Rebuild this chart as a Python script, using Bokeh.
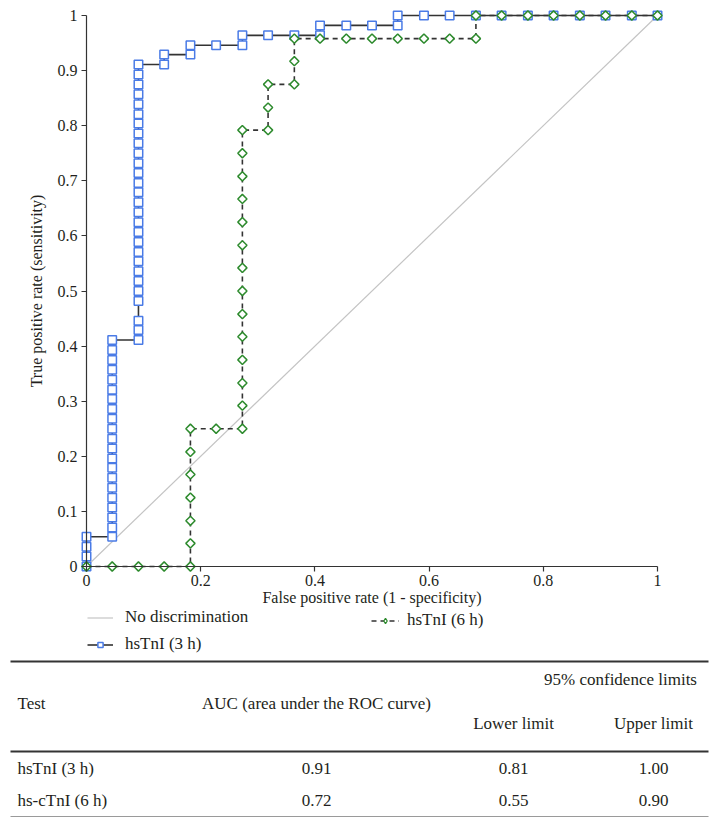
import math
from bokeh.plotting import figure
from bokeh.models import Range1d, FixedTicker, Legend, LegendItem
from bokeh.embed import file_html
from bokeh.resources import INLINE
from bokeh.core.properties import value

# ---------------- data ----------------
series_names = ["No discrimination", "hsTnI (3 h)", "hsTnI (6 h)"]

diag_x = [0.0, 1.0]
diag_y = [0.0, 1.0]

# hsTnI (3 h) ROC points (false positive rate, true positive rate)
h3_fpr = [0.000, 0.000, 0.000, 0.000,
          0.045, 0.045, 0.045, 0.045, 0.045, 0.045, 0.045, 0.045, 0.045, 0.045, 0.045,
          0.045, 0.045, 0.045, 0.045, 0.045, 0.045, 0.045, 0.045, 0.045, 0.045,
          0.091, 0.091, 0.091, 0.091, 0.091, 0.091, 0.091, 0.091, 0.091, 0.091, 0.091,
          0.091, 0.091, 0.091, 0.091, 0.091, 0.091, 0.091, 0.091, 0.091, 0.091, 0.091,
          0.091, 0.091, 0.091, 0.091, 0.091, 0.091,
          0.136, 0.136, 0.182, 0.182, 0.227, 0.273, 0.273, 0.318, 0.364, 0.409, 0.409,
          0.455, 0.500, 0.545, 0.545, 0.591, 0.636, 0.682, 0.727, 0.773, 0.818, 0.864,
          0.909, 0.955, 1.000]
h3_tpr = [0.000, 0.018, 0.036, 0.054,
          0.054, 0.071, 0.089, 0.107, 0.125, 0.143, 0.161, 0.179, 0.196, 0.214, 0.232,
          0.250, 0.268, 0.286, 0.304, 0.321, 0.339, 0.357, 0.375, 0.393, 0.411,
          0.411, 0.429, 0.446, 0.482, 0.500, 0.518, 0.536, 0.554, 0.571, 0.589, 0.607,
          0.625, 0.643, 0.661, 0.679, 0.696, 0.714, 0.732, 0.750, 0.768, 0.786, 0.804,
          0.821, 0.839, 0.857, 0.875, 0.893, 0.911,
          0.911, 0.929, 0.929, 0.946, 0.946, 0.946, 0.964, 0.964, 0.964, 0.964, 0.982,
          0.982, 0.982, 0.982, 1.000, 1.000, 1.000, 1.000, 1.000, 1.000, 1.000, 1.000,
          1.000, 1.000, 1.000]

# hsTnI (6 h) ROC points
h6_fpr = [0.000, 0.045, 0.091, 0.136, 0.182, 0.182, 0.182, 0.182, 0.182, 0.182, 0.182,
          0.227, 0.273, 0.273, 0.273, 0.273, 0.273, 0.273, 0.273, 0.273, 0.273, 0.273,
          0.273, 0.273, 0.273, 0.273, 0.318, 0.318, 0.318, 0.364, 0.364, 0.364,
          0.409, 0.455, 0.500, 0.545, 0.591, 0.636, 0.682, 0.682, 0.727, 0.773, 0.818,
          0.864, 0.909, 0.955, 1.000]
h6_tpr = [0.000, 0.000, 0.000, 0.000, 0.000, 0.042, 0.083, 0.125, 0.167, 0.208, 0.250,
          0.250, 0.250, 0.292, 0.333, 0.375, 0.417, 0.458, 0.500, 0.542, 0.583, 0.625,
          0.667, 0.708, 0.750, 0.792, 0.792, 0.833, 0.875, 0.875, 0.917, 0.958,
          0.958, 0.958, 0.958, 0.958, 0.958, 0.958, 0.958, 1.000, 1.000, 1.000, 1.000,
          1.000, 1.000, 1.000, 1.000]

x_ticks = [0, 0.2, 0.4, 0.6, 0.8, 1]
x_tick_labels = ["0", "0.2", "0.4", "0.6", "0.8", "1"]
y_ticks = [0, 0.1, 0.2, 0.3, 0.4, 0.5, 0.6, 0.7, 0.8, 0.9, 1]
y_tick_labels = ["0", "0.1", "0.2", "0.3", "0.4", "0.5", "0.6", "0.7", "0.8", "0.9", "1"]

x_title = "False positive rate (1 - specificity)"
y_title = "True positive rate (sensitivity)"

table_col_headers = ["Test", "AUC (area under the ROC curve)", "95% confidence limits",
                     "Lower limit", "Upper limit"]
tests = ["hsTnI (3 h)", "hs-cTnI (6 h)"]
auc = [0.91, 0.72]
ci_lower = [0.81, 0.55]
ci_upper = [1.00, 0.90]

# ---------------- layout (pixels) ----------------
W, H = 728, 820
PX_X0, PX_X1 = 86, 657      # pixel of fpr 0 and 1
PX_Y1, PX_Y0 = 15, 566      # pixel (from top) of tpr 1 and 0
sx = PX_X1 - PX_X0
sy = PX_Y0 - PX_Y1

FONT = "Liberation Serif"
FS = "17px"       # legend / table text
FS_AX = "16px"    # tick labels and axis titles
TXT = "#231f20"
AX = "#333333"
BLUE = "#4a7be6"
GREEN = "#2e8b2e"

p = figure(width=W, height=H,
           x_range=Range1d(-PX_X0 / sx, (W - PX_X0) / sx),
           y_range=Range1d(-(H - PX_Y0) / sy, 1 + PX_Y1 / sy),
           output_backend="svg", toolbar_location=None,
           min_border=0, min_border_left=0, min_border_right=0,
           min_border_top=0, min_border_bottom=0)
p.grid.visible = False
p.outline_line_color = None
p.extra_x_ranges = {"px": Range1d(0, W)}
p.extra_y_ranges = {"px": Range1d(H, 0)}

for ax in (p.xaxis[0], p.yaxis[0]):
    ax.fixed_location = 0
    ax.bounds = (0, 1)
    ax.axis_line_color = AX
    ax.axis_line_width = 1.2
    ax.major_tick_line_color = AX
    ax.major_tick_line_width = 1.2
    ax.major_tick_out = 5
    ax.major_tick_in = 0
    ax.minor_tick_line_color = None
    ax.major_label_text_font = FONT
    ax.major_label_text_font_size = FS_AX
    ax.major_label_text_color = TXT
    ax.axis_label_text_font = FONT
    ax.axis_label_text_font_size = FS_AX
    ax.axis_label_text_font_style = "normal"
    ax.axis_label_text_color = TXT

p.xaxis.ticker = FixedTicker(ticks=x_ticks)
p.xaxis.major_label_overrides = dict(zip(x_ticks, x_tick_labels))
p.xaxis.major_label_standoff = 3
p.xaxis.axis_label = x_title
p.xaxis.axis_label_standoff = 0

p.yaxis.ticker = FixedTicker(ticks=y_ticks)
p.yaxis.major_label_overrides = dict(zip(y_ticks, y_tick_labels))
p.yaxis.major_label_standoff = 4
p.yaxis.axis_label = y_title
p.yaxis.axis_label_standoff = 10

r_diag = p.line(diag_x, diag_y, line_color="#c4c4c4", line_width=1.2)
r3_line = p.line(h3_fpr, h3_tpr, line_color=AX, line_width=1.6)
r3_pts = p.scatter(h3_fpr, h3_tpr, marker="square", size=8.5, line_color=BLUE,
                   line_width=1.5, fill_color="white")
r6_line = p.line(h6_fpr, h6_tpr, line_color=AX, line_width=1.6, line_dash="5 4")
# diamond key drawn under the rotated-square markers (used for the legend swatch)
r6_key = p.scatter(h6_fpr, h6_tpr, marker="diamond", size=6, line_color=GREEN,
                   line_width=1.3, fill_color="white")
r6_pts = p.scatter(h6_fpr, h6_tpr, marker="square", angle=math.pi / 4, size=6.5,
                   line_color=GREEN, line_width=1.5, fill_color="white")

leg_kw = dict(background_fill_alpha=0, border_line_alpha=0, padding=0, margin=0,
              spacing=7, glyph_width=26, glyph_height=13, label_height=20,
              label_standoff=12, label_text_font=FONT, label_text_font_size=FS,
              label_text_color=TXT)
leg_a = Legend(items=[LegendItem(label=value(series_names[0]), renderers=[r_diag]),
                      LegendItem(label=value(series_names[1]), renderers=[r3_line, r3_pts])],
               location=(87, H - 654), **leg_kw)
leg_b = Legend(items=[LegendItem(label=value(series_names[2]), renderers=[r6_line, r6_key])],
               location=(371, H - 630), **leg_kw)
leg_b.glyph_width = 28
leg_b.label_standoff = 8
p.add_layout(leg_a)
p.add_layout(leg_b)

# ---------------- table (pixel coordinates) ----------------
COL_TEST, COL_AUC, COL_LO, COL_UP, COL_CI = 17, 316, 513, 653, 620
HEAD_Y0, HEAD_Y1, HEAD_Y2 = 679, 703, 723
ROW_Y = [768, 800]
RULE_X0, RULE_X1 = 10, 708
px = dict(x_range_name="px", y_range_name="px")
tk = dict(text_font=value(FONT), text_font_size=FS, text_color=TXT, text_baseline="middle", **px)

p.segment(x0=[RULE_X0, RULE_X0], y0=[661, 751], x1=[RULE_X1, RULE_X1], y1=[661, 751],
          line_color=AX, line_width=1.8, **px)
p.segment(x0=[RULE_X0], y0=[816], x1=[RULE_X1], y1=[816], line_color="#9a9a9a",
          line_width=1.2, **px)

p.text(x=[COL_TEST], y=[HEAD_Y1], text=[table_col_headers[0]], text_align="left", **tk)
p.text(x=[COL_AUC], y=[HEAD_Y1], text=[table_col_headers[1]], text_align="center", **tk)
p.text(x=[COL_CI], y=[HEAD_Y0], text=[table_col_headers[2]], text_align="center", **tk)
p.text(x=[COL_LO, COL_UP], y=[HEAD_Y2, HEAD_Y2], text=table_col_headers[3:5],
       text_align="center", **tk)

p.text(x=[COL_TEST] * 2, y=ROW_Y, text=tests, text_align="left", **tk)
p.text(x=[COL_AUC] * 2, y=ROW_Y, text=["%.2f" % v for v in auc], text_align="center", **tk)
p.text(x=[COL_LO] * 2, y=ROW_Y, text=["%.2f" % v for v in ci_lower], text_align="center", **tk)
p.text(x=[COL_UP] * 2, y=ROW_Y, text=["%.2f" % v for v in ci_upper], text_align="center", **tk)

open("out.html", "w").write(file_html(p, INLINE))
